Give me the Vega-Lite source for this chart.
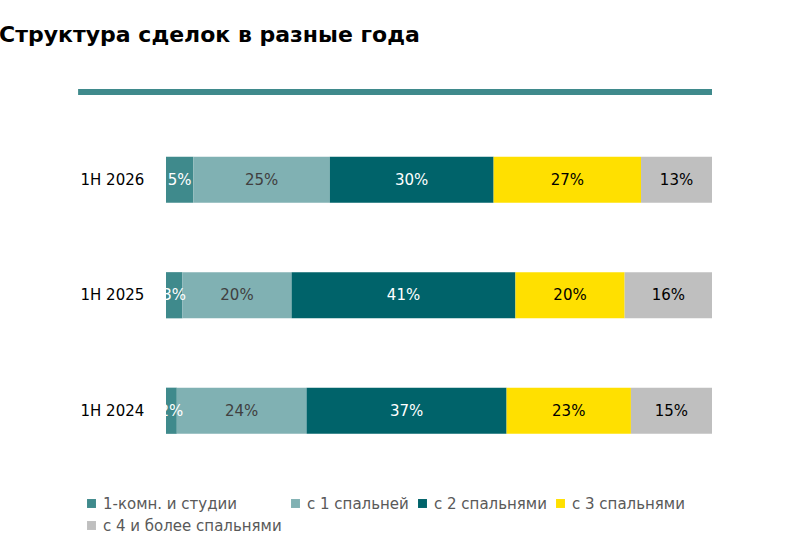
{
"$schema":"https://vega.github.io/schema/vega-lite/v6.json",
"width":546,"height":346.5,
"autosize":{"type":"none"},
"padding":{"left":166,"top":122,"right":88,"bottom":87},
"background":"white",
"config":{"view":{"stroke":null},"font":"DejaVu Sans"},
"title":{"text":"Структура сделок в разные года","anchor":"start","dx":-76,"offset":42,"fontSize":22,"fontWeight":"bold","color":"black","font":"DejaVu Sans"},
"data":{"values":[
{"y":"1H 2026","cat":"1-комн. и студии","o":1,"v":5},
{"y":"1H 2026","cat":"с 1 спальней","o":2,"v":25},
{"y":"1H 2026","cat":"с 2 спальнями","o":3,"v":30},
{"y":"1H 2026","cat":"с 3 спальнями","o":4,"v":27},
{"y":"1H 2026","cat":"с 4 и более спальнями","o":5,"v":13},
{"y":"1H 2025","cat":"1-комн. и студии","o":1,"v":3},
{"y":"1H 2025","cat":"с 1 спальней","o":2,"v":20},
{"y":"1H 2025","cat":"с 2 спальнями","o":3,"v":41},
{"y":"1H 2025","cat":"с 3 спальнями","o":4,"v":20},
{"y":"1H 2025","cat":"с 4 и более спальнями","o":5,"v":16},
{"y":"1H 2024","cat":"1-комн. и студии","o":1,"v":2},
{"y":"1H 2024","cat":"с 1 спальней","o":2,"v":24},
{"y":"1H 2024","cat":"с 2 спальнями","o":3,"v":37},
{"y":"1H 2024","cat":"с 3 спальнями","o":4,"v":23},
{"y":"1H 2024","cat":"с 4 и более спальнями","o":5,"v":15}
]},
"transform":[
{"stack":"v","groupby":["y"],"sort":[{"field":"o"}],"offset":"normalize","as":["s0","s1"]},
{"calculate":"(datum.s0+datum.s1)/2","as":"mid"},
{"calculate":"datum.v+'%'","as":"lbl"}
],
"encoding":{
"y":{"field":"y","type":"nominal","sort":["1H 2026","1H 2025","1H 2024"],"scale":{"paddingInner":0.6,"paddingOuter":0.3},
"axis":{"title":null,"domain":false,"ticks":false,"labelAlign":"left","labelPadding":86,"labelFontSize":15,"labelColor":"black"}}
},
"layer":[
{"mark":{"type":"bar"},
"encoding":{
"x":{"field":"s0","type":"quantitative","scale":{"domain":[0,1]},"axis":null},
"x2":{"field":"s1"},
"color":{"field":"cat","type":"nominal","sort":{"field":"o"},
"scale":{"domain":["1-комн. и студии","с 1 спальней","с 2 спальнями","с 3 спальнями","с 4 и более спальнями"],"range":["#3f8a8c","#80b1b3","#00636a","#ffe000","#bfbfbf"]},
"legend":{"title":null,"orient":"none","legendX":-82,"legendY":374,"direction":"horizontal","columns":4,"gridAlign":"none","symbolType":"square","symbolSize":80,"labelFontSize":15,"labelLimit":400,"labelColor":"#595959","columnPadding":6,"rowPadding":6,"labelOffset":4}}}},
{"mark":{"type":"text","fontSize":15},
"encoding":{
"x":{"field":"mid","type":"quantitative"},
"text":{"field":"lbl","type":"nominal"},
"color":{"condition":[{"test":"datum.o==1||datum.o==3","value":"white"},{"test":"datum.o==2","value":"#404040"}],"value":"black"}
}
},
{"data":{"values":[{"a":-0.161,"b":1}]},"mark":{"type":"rule","color":"#3f8a8c","strokeWidth":6},
"encoding":{"x":{"field":"a","type":"quantitative"},"x2":{"field":"b"},"y":{"value":-30}}}
]
}
